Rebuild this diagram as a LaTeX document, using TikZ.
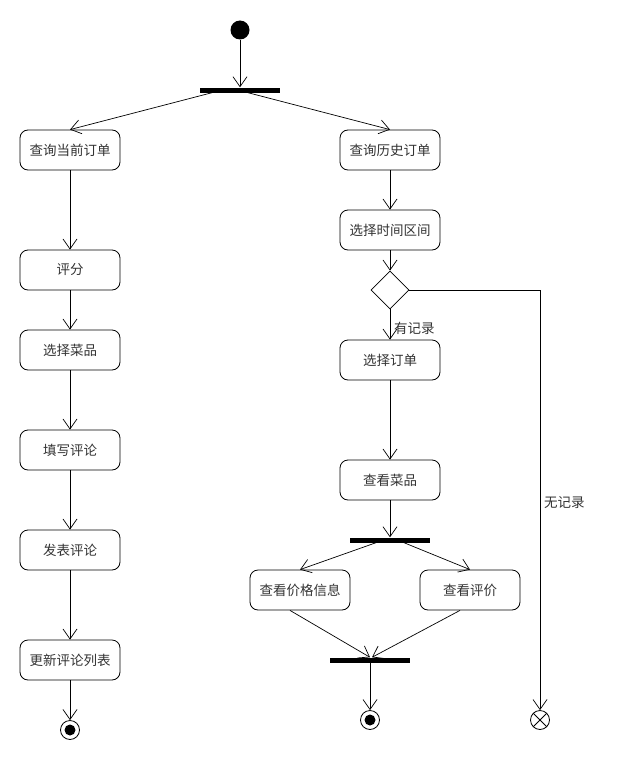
\documentclass[tikz,border=0pt]{standalone}
\usepackage{fontspec}
\setmainfont{Noto Sans CJK SC}
\usetikzlibrary{arrows.meta,shapes.geometric}
\begin{document}
\begin{tikzpicture}[x=1pt,y=-1pt,
  act/.style={draw,rounded corners=8pt,minimum width=100pt,minimum height=40pt,inner sep=0pt,line width=0.8pt,font=\fontsize{13.5}{16}\selectfont,text=black!80},
  bar/.style={fill=black,minimum width=80pt,minimum height=5pt,inner sep=0pt},
  flow/.style={-{Straight Barb[length=10pt,width=14pt]},line width=0.7pt},
  lbl/.style={font=\fontsize{13.5}{16}\selectfont,text=black!80,inner sep=0pt},
  initnode/.style={circle,fill=black,minimum size=19pt,inner sep=0pt},
  endnode/.style={circle,draw,line width=0.8pt,minimum size=19pt,inner sep=0pt,
    path picture={\fill (path picture bounding box.center) circle (5.5pt);}},
  flowend/.style={circle,draw,line width=0.8pt,minimum size=19pt,inner sep=0pt,
    path picture={\draw[line width=0.8pt] (path picture bounding box.north west) -- (path picture bounding box.south east)
      (path picture bounding box.north east) -- (path picture bounding box.south west);}},
  dec/.style={diamond,draw,line width=0.8pt,minimum width=38pt,minimum height=38pt,inner sep=0pt}
]
\useasboundingbox (0,0) rectangle (620,760);
\node[initnode] (start) at (240,30) {};
\node[bar] (bar1) at (240,90) {};
% left branch
\node[act] (a1) at (70,150) {查询当前订单};
\node[act] (a2) at (70,270) {评分};
\node[act] (a3) at (70,350) {选择菜品};
\node[act] (a4) at (70,450) {填写评论};
\node[act] (a5) at (70,550) {发表评论};
\node[act] (a6) at (70,660) {更新评论列表};
\node[endnode] (end1) at (70,730) {};
% right branch
\node[act] (b1) at (390,150) {查询历史订单};
\node[act] (b2) at (390,230) {选择时间区间};
\node[dec] (d) at (390,290) {};
\node[act] (b3) at (390,360) {选择订单};
\node[act] (b4) at (390,480) {查看菜品};
\node[bar] (bar2) at (390,540) {};
\node[act] (c1) at (300,590) {查看价格信息};
\node[act] (c2) at (470,590) {查看评价};
\node[bar] (bar3) at (370,660) {};
\node[endnode] (end2) at (370,720) {};
\node[flowend] (end3) at (540,720) {};
\coordinate (corner) at (540,290);
\node[lbl,anchor=west] (yes) at (394,328) {有记录};
\node[lbl,anchor=west] (no) at (544,503) {无记录};
% connectors
\draw[flow] (start) -- (bar1.north);
\draw[flow] ([xshift=-28pt]bar1.south) -- (a1.north);
\draw[flow] ([xshift=8pt]bar1.south) -- (b1.north);
\draw[flow] (a1) -- (a2);
\draw[flow] (a2) -- (a3);
\draw[flow] (a3) -- (a4);
\draw[flow] (a4) -- (a5);
\draw[flow] (a5) -- (a6);
\draw[flow] (a6) -- (end1);
\draw[flow] (b1) -- (b2);
\draw[flow] (b2) -- (d.north);
\draw[flow] (d.south) -- (b3.north);
\draw[flow] (b3) -- (b4);
\draw[flow] (b4) -- (bar2.north);
\draw[flow] ([xshift=-14pt]bar2.south) -- (c1.north);
\draw[flow] ([xshift=14pt]bar2.south) -- (c2.north);
\draw[flow] ([xshift=-10pt]c1.south) -- (bar3.north);
\draw[flow] ([xshift=-10pt]c2.south) -- ([xshift=2pt]bar3.north);
\draw[flow] (bar3) -- (end2);
\draw[flow] (d.east) -- (corner) -- (end3);
\end{tikzpicture}
\end{document}
